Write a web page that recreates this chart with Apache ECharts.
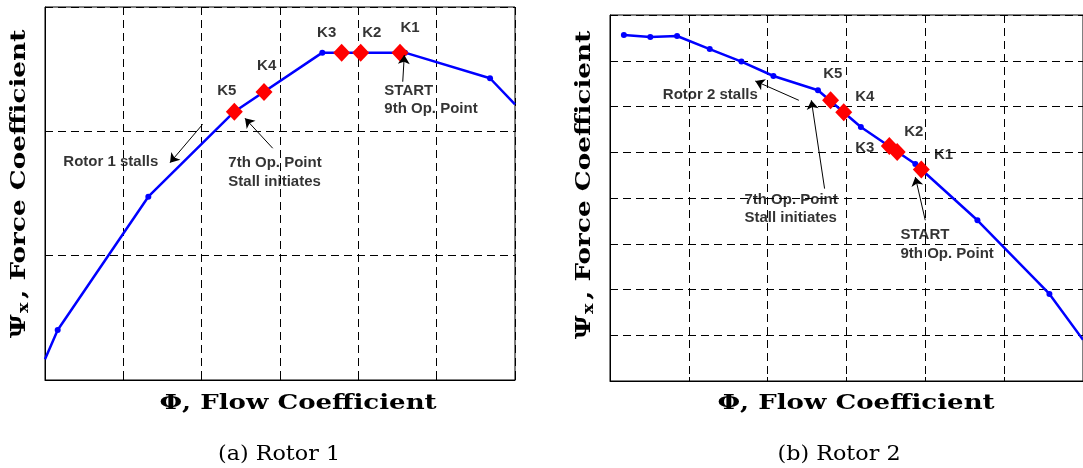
<!DOCTYPE html>
<html><head><meta charset="utf-8">
<script src="https://cdn.jsdelivr.net/npm/echarts@6/dist/echarts.min.js"></script>
<style>html,body{margin:0;padding:0;background:#fff}#c{width:1083px;height:468px}</style>
</head><body><div id="c"></div>
<script>
// ---- Data (unitless axes, no tick labels shown) ----
const xRange = [0, 6];
const yRange1 = [0, 3];
const yRange2 = [0, 8];

// Rotor 1 curve (Φ, Ψx) and which vertices carry a dot
const rotor1Curve = [[0,0.166],[0.162,0.402],[1.319,1.474],[2.417,2.158],[3.540,2.633],[4.596,2.633],[5.681,2.427],[6.0,2.217]];
const rotor1Dots  = [false,true,true,false,true,true,true,false];
const rotor1K     = [[4.532,2.633],[4.030,2.633],[3.787,2.633],[2.796,2.316],[2.417,2.158]];

// Rotor 2 curve
const rotor2Curve = [[0.176,7.563],[0.511,7.519],[0.851,7.541],[1.265,7.256],[1.667,6.981],[2.073,6.667],[2.638,6.354],[3.182,5.552],[3.873,4.744],[4.661,3.513],[5.574,1.902],[6.0,0.9]];
const rotor2Dots  = [true,true,true,true,true,true,true,true,true,true,true,false];
const rotor2K     = [[3.949,4.621],[3.643,5.006],[3.543,5.137],[2.965,5.873],[2.798,6.135]];

const kNames = ['K1','K2','K3','K4','K5'];

// Annotation labels: [x, y, text]
const rotor1KLabels = [[4.660,2.834],[4.171,2.789],[3.596,2.796],[2.830,2.528],[2.320,2.327]];
const rotor1Notes = [[4.332,2.324,'START'],[4.332,2.177,'9th Op. Point'],[0.234,1.756,'Rotor 1 stalls'],[2.340,1.743,'7th Op. Point'],[2.340,1.595,'Stall initiates']];
const rotor1Arrows = [[[2.013,2.057],[1.596,1.748]],[[2.907,1.864],[2.553,2.105]],[[4.567,2.399],[4.587,2.614]]];

const rotor2KLabels = [[4.230,4.949],[3.853,5.443],[3.232,5.102],[3.232,6.208],[2.827,6.719]];
const rotor2Notes = [[0.670,6.251,'Rotor 2 stalls'],[1.705,3.965,'7th Op. Point'],[1.705,3.572,'Stall initiates'],[3.685,3.191,'START'],[3.685,2.785,'9th Op. Point']];
const rotor2Arrows = [[[2.396,6.135],[1.843,6.557]],[[2.722,4.205],[2.554,6.135]],[[3.999,3.513],[3.873,4.459]]];

const xTitle = 'Φ, Flow Coefficient';
const captions = ['(a) Rotor 1','(b) Rotor 2'];

// ---- Styling ----
const labelFont = {color:'#000', fontWeight:'bold', fontSize:15, fontFamily:'Liberation Sans'};
const gridLine = {show:true, lineStyle:{color:'#000', type:[8,5], width:1}};

function axisX(gi){
  return {type:'value', gridIndex:gi, min:xRange[0], max:xRange[1], interval:1,
    axisLabel:{show:false}, axisTick:{show:true, inside:true, length:4, lineStyle:{color:'#000'}},
    axisLine:{show:true, lineStyle:{color:'#000', width:1}}, splitLine:gridLine};
}
function axisY(gi, r){
  return {type:'value', gridIndex:gi, min:r[0], max:r[1], interval:1,
    axisLabel:{show:false}, axisTick:{show:true, inside:true, length:4, lineStyle:{color:'#000'}},
    axisLine:{show:true, lineStyle:{color:'#000', width:1}}, splitLine:gridLine};
}
function curveSeries(gi, pts, dots){
  return {type:'line', xAxisIndex:gi, yAxisIndex:gi, z:3,
    data: pts.map((p,i)=>({value:p, symbol: dots[i] ? 'circle' : 'none'})),
    symbolSize:6, showAllSymbol:true,
    lineStyle:{color:'#0000ff', width:2.5}, itemStyle:{color:'#0000ff'}};
}
function kSeries(gi, pts){
  return {type:'scatter', xAxisIndex:gi, yAxisIndex:gi, z:4,
    data: pts, symbol:'diamond', symbolSize:[17,18], itemStyle:{color:'#ff0000', opacity:1}};
}
function kLabelSeries(gi, pts){
  return {type:'scatter', xAxisIndex:gi, yAxisIndex:gi, z:5, symbolSize:0, silent:true,
    data: pts.map((p,i)=>({value:p, name:kNames[i]})),
    label:Object.assign({show:true, position:'inside', formatter:'{b}'}, labelFont)};
}
function noteSeries(gi, notes){
  return {type:'scatter', xAxisIndex:gi, yAxisIndex:gi, z:5, symbolSize:0, silent:true,
    data: notes.map(n=>({value:[n[0],n[1]], name:n[2]})),
    label:Object.assign({show:true, position:'right', distance:0, formatter:'{b}'}, labelFont)};
}
function arrowSeries(gi, arrows){
  return {type:'lines', coordinateSystem:'cartesian2d', xAxisIndex:gi, yAxisIndex:gi, z:6,
    data: arrows.map(a=>({coords:a})),
    symbol:['none','arrow'], symbolSize:9,
    lineStyle:{color:'#000', width:1, opacity:1}, itemStyle:{color:'#000'}};
}

const titleFont = 'bold 21px "DejaVu Serif"';
const capFont = '21px "DejaVu Serif"';
function xTitleText(cx, cy){
  return {type:'text', x:cx, y:cy, scaleX:1.24,
    style:{text:xTitle, font:titleFont, fill:'#000', align:'center', verticalAlign:'middle'}};
}
function capText(cx, cy, t){
  return {type:'text', x:cx, y:cy, scaleX:1.06,
    style:{text:t, font:capFont, fill:'#000', align:'center', verticalAlign:'middle'}};
}
function yTitle(cx, cy){
  return {type:'text', x:cx, y:cy, rotation:Math.PI/2, scaleX:1.25,
    style:{text:'{a|Ψ}{s|x}{a|, Force Coefficient}', align:'center', verticalAlign:'middle',
      rich:{a:{font:titleFont, fill:'#000'}, s:{font:'bold 14px "DejaVu Serif"', fill:'#000', verticalAlign:'bottom', padding:[8,3,0,1]}}}};
}

const chart = echarts.init(document.getElementById('c'), null, {renderer:'canvas'});
chart.setOption({
  animation:false,
  backgroundColor:'#fff',
  grid:[
    {left:45, top:7, width:470, height:373, show:true, borderColor:'#000', borderWidth:1},
    {left:610, top:15, width:478, height:366, show:true, borderColor:'#000', borderWidth:1}
  ],
  xAxis:[axisX(0), axisX(1)],
  yAxis:[axisY(0, yRange1), axisY(1, yRange2)],
  series:[
    curveSeries(0, rotor1Curve, rotor1Dots), kSeries(0, rotor1K), kLabelSeries(0, rotor1KLabels), noteSeries(0, rotor1Notes), arrowSeries(0, rotor1Arrows),
    curveSeries(1, rotor2Curve, rotor2Dots), kSeries(1, rotor2K), kLabelSeries(1, rotor2KLabels), noteSeries(1, rotor2Notes), arrowSeries(1, rotor2Arrows)
  ],
  graphic:[
    xTitleText(298, 404), xTitleText(856, 404),
    capText(279, 455, captions[0]), capText(839, 455, captions[1]),
    yTitle(20, 184), yTitle(585, 185)
  ]
});
</script></body></html>
